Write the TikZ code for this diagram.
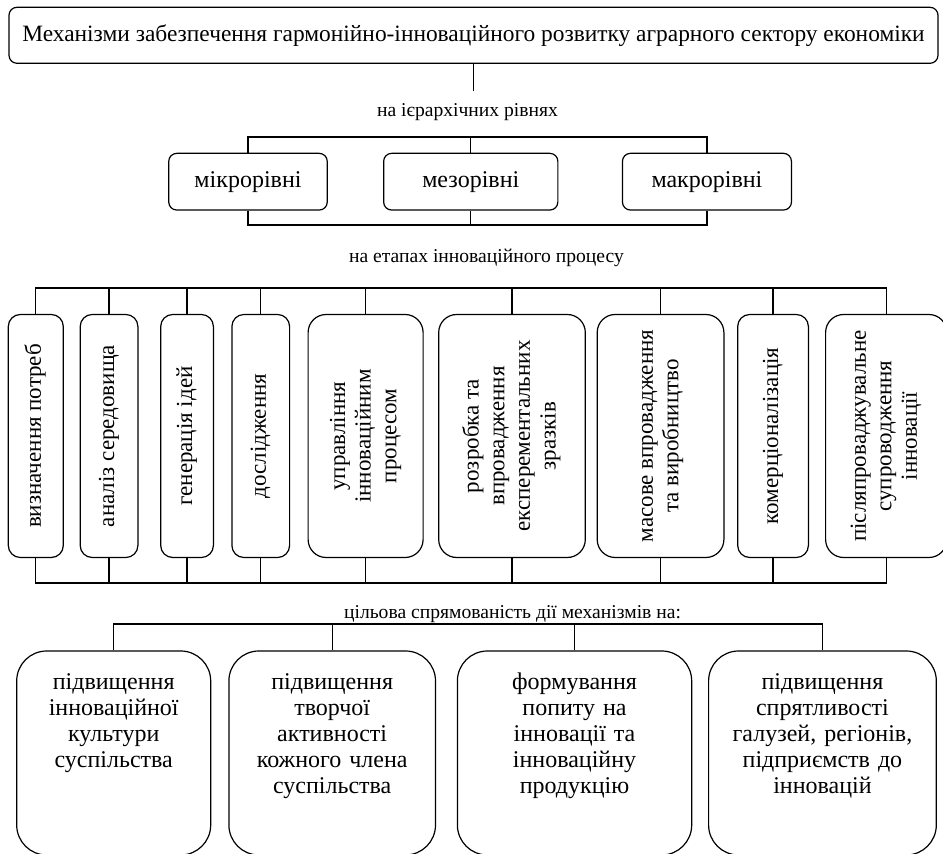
\documentclass[tikz,border=0pt]{standalone}
\usepackage{fontspec}
\setmainfont{Liberation Serif}
\usetikzlibrary{positioning}

\newcommand{\vtext}[1]{\rotatebox{90}{\begin{tabular}{@{}c@{}}#1\end{tabular}}}

\begin{document}
\begin{tikzpicture}[x=0.5pt, y=-0.5pt, line width=0.6pt,
	box/.style={draw, rounded corners=4pt, align=center, inner sep=0pt, font=\fontsize{12}{13}\selectfont},
	tier/.style={box, minimum width=#1, minimum height=28.35pt},
	phase/.style={box, rounded corners=6pt, minimum width=#1, minimum height=121.5pt, font=\fontsize{11.5}{12.8}\selectfont},
	aim/.style={box, rounded corners=15pt, text width=#1, inner xsep=4pt, text height=19.5pt, text depth=82.5pt},
	subhead/.style={font=\fontsize{9.8}{12}\selectfont, inner sep=0pt}]
		\useasboundingbox (0,0) rectangle (943,854);
		\clip (0,0) rectangle (943,854);

		\node[box, minimum width=464.5pt, minimum height=28pt, font=\fontsize{11.7}{13}\selectfont] (title) at (473.5,35.3) {Механізми забезпечення гармонійно-інноваційного розвитку аграрного сектору економіки};
		\coordinate (tdrop) at (472,91);
		\draw (title.south) -- (title.south |- tdrop);

		\node[subhead] (tiercap) at (467.5,112) {на ієрархічних рівнях};
		\node[tier=79.25pt] (micro) at (248,181.7) {мікрорівні};
		\node[tier=87.1pt] (meso) [right=27.6pt of micro] {мезорівні};
		\node[tier=84.5pt] (macro) [right=31.7pt of meso] {макрорівні};

		\coordinate (ttop) at (0,137);
		\coordinate (tbot) at (0,225);
		\draw (micro.north) |- (macro.north |- ttop) -- (macro.north);
		\draw (meso.north) -- (meso.north |- ttop);
		\draw (micro.south) |- (macro.south |- tbot) -- (macro.south);
		\draw (meso.south) -- (meso.south |- tbot);

		\node[subhead] (phasecap) at (486.5,258) {на етапах інноваційного процесу};
		\node[phase=27.5pt] (p1) at (35.8,436) {\vtext{визначення потреб}};
		\node[phase=28.85pt] (p2) [right=7.85pt of p1] {\vtext{аналіз середовища}};
		\node[phase=26.35pt] (p3) [right=10.8pt of p2] {\vtext{генерація ідей}};
		\node[phase=28.85pt] (p4) [right=8.65pt of p3] {\vtext{дослідження}};
		\node[phase=57.5pt, rounded corners=9pt] (p5) [right=8.65pt of p4] {\vtext{управління\\ інноваційним\\ процесом}};
		\node[phase=73.3pt, rounded corners=9pt] (p6) [right=7.2pt of p5] {\vtext{розробка та\\ впровадження\\ експерементальних\\ зразків}};
		\node[phase=63.35pt, rounded corners=9pt] (p7) [right=5.35pt of p6] {\vtext{масове впровадження\\ та виробництво}};
		\node[phase=35.35pt] (p8) [right=6.3pt of p7] {\vtext{комерціоналізація}};
		\node[phase=60.65pt, rounded corners=9pt] (p9) [right=8pt of p8] {\vtext{післяпроваджувальне\\ супроводження\\ інновації}};

		\coordinate (ptop) at (0,288);
		\coordinate (pbot) at (0,583);
		\draw (p1.north) |- (p9.north |- ptop) -- (p9.north);
		\draw (p1.south) |- (p9.south |- pbot) -- (p9.south);
		\foreach \n in {2,...,8} {
			\draw (p\n.north) -- (p\n.north |- ptop);
			\draw (p\n.south) -- (p\n.south |- pbot);
		}

		\node[subhead] (aimcap) at (512.5,614) {цільова спрямованість дії механізмів на:};
		\node[aim=89pt] (a1) at (113.7,753) {підвищення\\ інноваційної\\ культури\\ суспільства};
		\node[aim=95.3pt] (a2) [right=8.5pt of a1] {підвищення\\ творчої\\ активності\\ кожного члена\\ суспільства};
		\node[aim=109.15pt] (a3) [right=10.35pt of a2] {формування\\ попиту на\\ інновації та\\ інноваційну\\ продукцію};
		\node[aim=105.85pt] (a4) [right=7.85pt of a3] {підвищення\\ спрятливості\\ галузей, регіонів,\\ підприємств до\\ інновацій};

		\coordinate (atop) at (0,624);
		\draw (a1.north) |- (a4.north |- atop) -- (a4.north);
		\draw (a2.north) -- (a2.north |- atop);
		\draw (a3.north) -- (a3.north |- atop);
\end{tikzpicture}
\end{document}
